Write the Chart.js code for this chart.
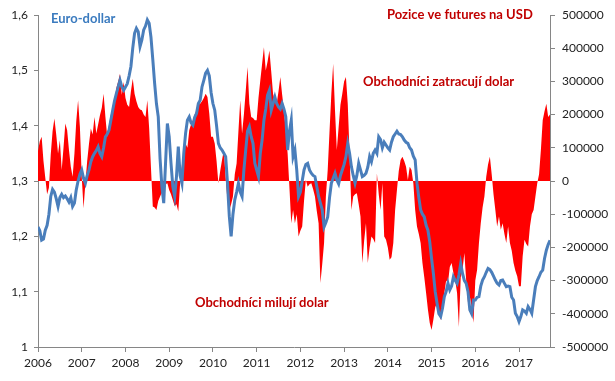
<!DOCTYPE html>
<html>
<head>
<meta charset="utf-8">
<script src="https://cdn.jsdelivr.net/npm/chart.js@4.4.1/dist/chart.umd.min.js"></script>
<style>
  body { margin: 0; background: #fff; }
  #wrap { width: 615px; height: 381px; }
</style>
</head>
<body>
<div id="wrap"><canvas id="mycanvas" width="615" height="381"></canvas></div>
<script>
// half-monthly readings, first point = start of 2006
var startYear = 2006;
var perYear = 24;

// EUR/USD
var eurusd = [
  1.217,1.21,1.193,1.195,1.211,1.22,1.24,1.272,1.285,1.28,1.268,1.254,1.27,1.276,1.27,1.273,1.268,1.262,1.27,1.254,1.26,1.284,1.3,1.312,
  1.32,1.305,1.296,1.31,1.32,1.335,1.344,1.35,1.355,1.362,1.35,1.344,1.36,1.38,1.385,1.392,1.41,1.428,1.445,1.458,1.47,1.482,1.47,1.464,
  1.47,1.476,1.49,1.507,1.54,1.567,1.576,1.57,1.543,1.555,1.573,1.58,1.591,1.585,1.56,1.52,1.477,1.44,1.416,1.34,1.29,1.26,1.332,1.404,
  1.38,1.332,1.29,1.272,1.308,1.362,1.31,1.296,1.35,1.386,1.41,1.416,1.405,1.401,1.415,1.422,1.44,1.446,1.47,1.482,1.495,1.5,1.49,1.46,
  1.44,1.428,1.4,1.368,1.36,1.356,1.35,1.344,1.296,1.236,1.2,1.24,1.266,1.28,1.296,1.28,1.272,1.32,1.356,1.39,1.398,1.38,1.368,1.332,
  1.32,1.308,1.35,1.374,1.41,1.43,1.455,1.464,1.428,1.44,1.452,1.44,1.434,1.43,1.44,1.43,1.416,1.356,1.39,1.41,1.344,1.356,1.32,1.272,
  1.28,1.3,1.32,1.33,1.332,1.32,1.314,1.31,1.308,1.29,1.272,1.26,1.248,1.217,1.225,1.235,1.27,1.296,1.305,1.314,1.302,1.295,1.31,1.32,
  1.33,1.344,1.368,1.35,1.326,1.31,1.296,1.31,1.332,1.32,1.308,1.31,1.314,1.325,1.344,1.335,1.35,1.356,1.35,1.38,1.375,1.36,1.37,1.365,
  1.36,1.356,1.37,1.38,1.385,1.39,1.385,1.384,1.38,1.374,1.37,1.368,1.36,1.356,1.345,1.338,1.296,1.27,1.248,1.24,1.235,1.22,1.211,1.19,
  1.16,1.133,1.1,1.079,1.06,1.055,1.07,1.091,1.1,1.115,1.103,1.11,1.127,1.12,1.115,1.13,1.151,1.133,1.12,1.115,1.1,1.067,1.06,1.085,
  1.085,1.09,1.091,1.11,1.121,1.127,1.135,1.142,1.14,1.135,1.128,1.121,1.115,1.112,1.12,1.121,1.115,1.109,1.11,1.109,1.09,1.085,1.061,1.055,
  1.046,1.055,1.067,1.065,1.061,1.073,1.068,1.061,1.085,1.109,1.12,1.127,1.135,1.139,1.16,1.175,1.185,1.193
];

// net positions in USD futures, thousands of contracts
var positions = [
  90,120,133,60,10,-40,-20,80,150,188,140,83,123,33,100,173,153,93,43,13,83,180,243,163,
  13,-82,-7,60,113,158,140,193,143,170,198,220,263,193,133,170,200,213,240,280,300,323,260,298,
  250,230,223,270,308,263,240,223,215,213,200,193,243,160,40,-77,-80,-87,-60,-47,-35,-27,-10,-7,
  -27,-40,-57,-75,-70,-92,-7,50,83,113,100,153,170,183,200,213,230,233,240,250,263,253,203,133,
  133,113,60,-7,30,63,93,10,-60,-87,-70,-47,20,53,150,243,143,200,270,343,233,193,190,183,
  183,250,303,353,403,333,360,393,330,263,240,233,270,313,260,213,150,83,-20,-127,-87,-127,-100,-167,
  -150,-137,-60,3,-17,-10,-7,-25,-47,-90,-127,-307,-250,-187,-47,33,150,263,353,213,93,163,230,263,
  300,313,233,83,-87,-47,-40,-37,-70,-107,-247,-180,-127,-247,-200,-167,-175,-187,23,-40,-87,-7,-167,-177,
  -200,-237,-230,-187,-87,-27,30,63,73,60,43,3,43,33,-7,-87,-137,-160,-187,-247,-290,-337,-387,-428,
  -449,-417,-380,-367,-400,-419,-370,-337,-300,-307,-259,-247,-277,-300,-337,-440,-290,-267,-217,-300,-367,-347,-380,-427,
  -300,-267,-187,-127,-80,-47,13,50,73,20,-40,-87,-137,-107,-147,-127,-160,-187,-137,-187,-210,-247,-270,-287,
  -317,-317,-227,-177,-190,-197,-137,-100,-87,-47,-7,20,93,183,210,233,193,200
];

var notes = [
  { text: 'Euro-dollar', x: 51, y: 19, color: '#3b7bbf' },
  { text: 'Pozice ve futures na USD', x: 387, y: 15, color: '#c00000' },
  { text: 'Obchodníci zatracují dolar', x: 363, y: 82, color: '#c00000' },
  { text: 'Obchodníci milují dolar', x: 195, y: 303, color: '#c00000' }
];

var dates = eurusd.map(function(v, i){ return startYear + i / perYear; });
var eurPts = eurusd.map(function(v, i){ return { x: dates[i], y: v }; });
var posPts = positions.map(function(v, i){ return { x: dates[i], y: v * 1000 }; });

var axisGray = '#868686';
var tickFont = { family: 'Lato', size: 12 };

var notesPlugin = {
  id: 'notes',
  afterDraw: function(chart){
    var ctx = chart.ctx;
    ctx.save();
    ctx.font = 'bold 13px Lato';
    ctx.textBaseline = 'middle';
    ctx.textAlign = 'left';
    notes.forEach(function(n){
      ctx.fillStyle = n.color;
      ctx.fillText(n.text, n.x, n.y);
    });
    ctx.restore();
  }
};

var cxt = document.getElementById('mycanvas');
var chart = new Chart(cxt, {
  type: 'line',
  data: {
    datasets: [
      {
        label: 'Euro-dollar',
        data: eurPts,
        yAxisID: 'y',
        borderColor: '#4a7ebb',
        borderWidth: 3,
        pointRadius: 0,
        fill: false,
        order: 0
      },
      {
        label: 'Pozice ve futures na USD',
        data: posPts,
        yAxisID: 'yR',
        borderWidth: 0,
        borderColor: '#ff0000',
        backgroundColor: '#ff0000',
        pointRadius: 0,
        fill: 'origin',
        order: 1
      }
    ]
  },
  options: {
    responsive: false,
    animation: false,
    layout: { padding: { top: 15 } },
    plugins: { legend: { display: false }, tooltip: { enabled: false } },
    scales: {
      x: {
        type: 'linear',
        min: startYear,
        max: dates[dates.length - 1],
        afterFit: function(s){ s.height = 34; },
        ticks: {
          stepSize: 1,
          includeBounds: false,
          autoSkip: false,
          maxRotation: 0,
          padding: 4,
          color: '#222',
          font: tickFont,
          callback: function(v){ return Number.isInteger(v) ? String(v) : null; }
        },
        grid: { drawOnChartArea: false, tickLength: 5, color: axisGray },
        border: { color: axisGray }
      },
      y: {
        position: 'left',
        min: 1,
        max: 1.6,
        afterFit: function(s){ s.width = 38; },
        ticks: {
          stepSize: 0.1,
          padding: 6,
          color: '#222',
          font: tickFont,
          callback: function(v){
            if (Math.abs(v - 1) < 1e-9) return '1';
            return v.toFixed(1).replace('.', ',');
          }
        },
        grid: { drawOnChartArea: false, tickLength: 4, color: axisGray },
        border: { color: axisGray }
      },
      yR: {
        position: 'right',
        min: -500000,
        max: 500000,
        afterFit: function(s){ s.width = 65; },
        ticks: {
          stepSize: 100000,
          padding: 7,
          color: '#222',
          font: tickFont,
          callback: function(v){ return String(v); }
        },
        grid: { drawOnChartArea: false, tickLength: 5, color: axisGray },
        border: { color: axisGray }
      }
    }
  },
  plugins: [notesPlugin]
});
</script>
</body>
</html>
